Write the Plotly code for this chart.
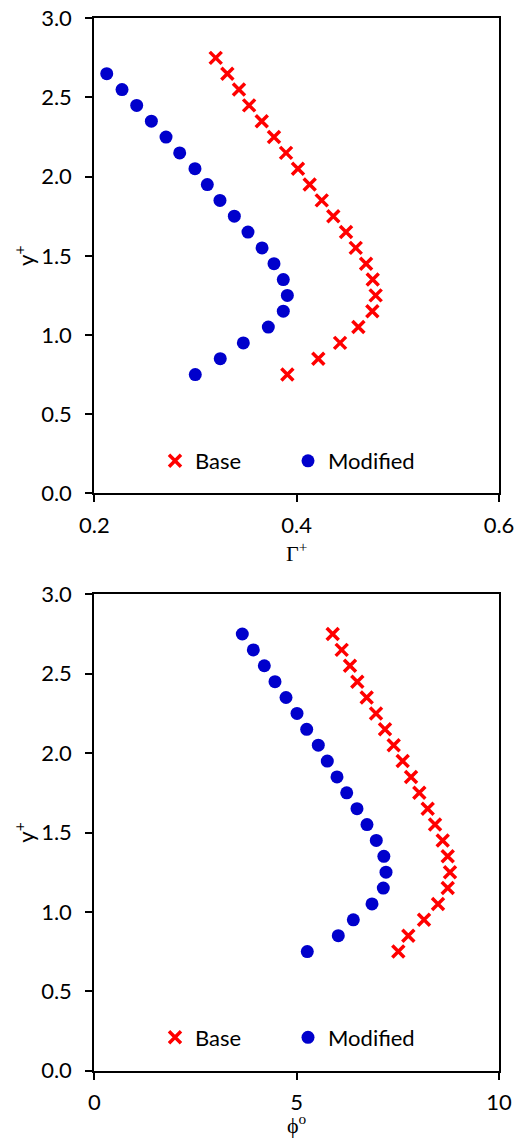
import plotly.graph_objects as go

# ---- data ----
y_top_base = [2.75, 2.65, 2.55, 2.45, 2.35, 2.25, 2.15, 2.05, 1.95, 1.85, 1.75,
              1.65, 1.55, 1.45, 1.35, 1.25, 1.15, 1.05, 0.95, 0.85, 0.75]
gamma_base = [0.320, 0.3315, 0.343, 0.353, 0.3655, 0.3776, 0.3895, 0.4013, 0.4129,
              0.4248, 0.4362, 0.4488, 0.4584, 0.4686, 0.4752, 0.4781, 0.4748,
              0.461, 0.4429, 0.4214, 0.3908]
y_top_mod = [2.65, 2.55, 2.45, 2.35, 2.25, 2.15, 2.05, 1.95, 1.85, 1.75,
             1.65, 1.55, 1.45, 1.35, 1.25, 1.15, 1.05, 0.95, 0.85, 0.75]
gamma_mod = [0.2123, 0.2274, 0.2419, 0.2564, 0.2709, 0.2844, 0.2995, 0.3117, 0.3242,
             0.3384, 0.3519, 0.3658, 0.3776, 0.3868, 0.3908, 0.3868, 0.372, 0.3473,
             0.3245, 0.2998]

y_bot = [2.75, 2.65, 2.55, 2.45, 2.35, 2.25, 2.15, 2.05, 1.95, 1.85, 1.75,
         1.65, 1.55, 1.45, 1.35, 1.25, 1.15, 1.05, 0.95, 0.85, 0.75]
phi_base = [5.891, 6.113, 6.318, 6.499, 6.731, 6.961, 7.183, 7.398, 7.620, 7.826,
            8.031, 8.238, 8.419, 8.609, 8.733, 8.789, 8.733, 8.493, 8.147, 7.759, 7.512]
phi_mod = [3.657, 3.929, 4.201, 4.465, 4.737, 5.009, 5.248, 5.535, 5.757, 5.997,
           6.237, 6.491, 6.738, 6.968, 7.155, 7.208, 7.141, 6.862, 6.400, 6.029, 5.263]

x_top_ticks = [0.2, 0.4, 0.6]
x_bot_ticks = [0, 5, 10]
y_ticks = [0.0, 0.5, 1.0, 1.5, 2.0, 2.5, 3.0]

RED = "#ff0000"
BLUE = "#0000cc"
FONT = "Lato"

fig = go.Figure()

base_marker = dict(symbol="x-thin", size=12, color=RED, line=dict(width=3.5, color=RED))
mod_marker = dict(symbol="circle", size=13, color=BLUE, line=dict(width=0))

fig.add_trace(go.Scatter(x=gamma_base, y=y_top_base, mode="markers", name="Base",
                         marker=base_marker, xaxis="x", yaxis="y", legend="legend"))
fig.add_trace(go.Scatter(x=gamma_mod, y=y_top_mod, mode="markers", name="Modified",
                         marker=mod_marker, xaxis="x", yaxis="y", legend="legend"))
fig.add_trace(go.Scatter(x=phi_base, y=y_bot, mode="markers", name="Base",
                         marker=base_marker, xaxis="x2", yaxis="y2", legend="legend2"))
fig.add_trace(go.Scatter(x=phi_mod, y=y_bot, mode="markers", name="Modified",
                         marker=mod_marker, xaxis="x2", yaxis="y2", legend="legend2"))

W, H = 523, 1138
xd = [94.3 / W, 499 / W]
top_dom = [1 - 493.3 / H, 1 - 18.3 / H]
bot_dom = [1 - 1070.7 / H, 1 - 594.3 / H]

axis_common = dict(showline=True, linecolor="black", linewidth=2, mirror=True,
                   ticks="outside", ticklen=7, tickwidth=1.5, tickcolor="black",
                   showgrid=False, zeroline=False, automargin=False,
                   tickfont=dict(family=FONT, size=22, color="black"))
x_extra = dict(ticklabelstandoff=4)
y_extra = dict(ticklabelstandoff=9)

legend_common = dict(orientation="h", bgcolor="rgba(0,0,0,0)",
                     font=dict(family=FONT, size=22, color="black"),
                     itemwidth=30, xanchor="left", yanchor="middle",
                     tracegroupgap=0, entrywidth=88, entrywidthmode="pixels")

fig.update_layout(
    width=W, height=H,
    margin=dict(l=0, r=0, t=0, b=0),
    paper_bgcolor="white", plot_bgcolor="white",
    xaxis=dict(domain=xd, anchor="y", range=[0.2, 0.6], tickvals=x_top_ticks,
               ticktext=["0.2", "0.4", "0.6"],
               title=dict(text="Γ<sup>+</sup>", standoff=7,
                          font=dict(family="Liberation Serif", size=22, color="black")),
               **axis_common, **x_extra),
    yaxis=dict(domain=top_dom, anchor="x", range=[0, 3], tickvals=y_ticks,
               ticktext=[f"{v:.1f}" for v in y_ticks],
               title=dict(text="y<sup>+</sup>", standoff=0,
                          font=dict(family=FONT, size=22, color="black")),
               **axis_common, **y_extra),
    xaxis2=dict(domain=xd, anchor="y2", range=[0, 10], tickvals=x_bot_ticks,
                ticktext=["0", "5", "10"],
                title=dict(text="ϕ<sup>o</sup>", standoff=7,
                           font=dict(family="Liberation Serif", size=22, color="black")),
                **axis_common, **x_extra),
    yaxis2=dict(domain=bot_dom, anchor="x2", range=[0, 3], tickvals=y_ticks,
                ticktext=[f"{v:.1f}" for v in y_ticks],
                title=dict(text="y<sup>+</sup>", standoff=0,
                           font=dict(family=FONT, size=22, color="black")),
                **axis_common, **y_extra),
    legend=dict(x=155 / W, y=1 - 461 / H, **legend_common),
    legend2=dict(x=155 / W, y=1 - 1037.5 / H, **legend_common),
    showlegend=True,
)

fig.write_html("out.html")
